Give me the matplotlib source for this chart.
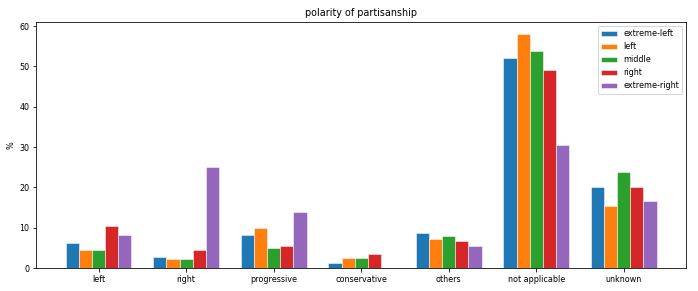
import numpy as np
import matplotlib
matplotlib.use('Agg')
import matplotlib.pyplot as plt

# categories on the x axis
categories = ['left', 'right', 'progressive', 'conservative', 'others', 'not applicable', 'unknown']

# one series per partisanship group (values in %)
extreme_left = [6.2, 2.7, 8.3, 1.3, 8.7, 52.2, 20.2]
left = [4.5, 2.2, 9.9, 2.6, 7.2, 58.1, 15.3]
middle = [4.4, 2.2, 4.9, 2.6, 7.9, 53.8, 23.9]
right = [10.5, 4.5, 5.4, 3.5, 6.8, 49.2, 20.0]
extreme_right = [8.3, 25.0, 13.9, 0.0, 5.5, 30.5, 16.7]

series = [extreme_left, left, middle, right, extreme_right]
series_names = ['extreme-left', 'left', 'middle', 'right', 'extreme-right']
colors = ['#1f77b4', '#ff7f0e', '#2ca02c', '#d62728', '#9467bd']

plt.rcParams['font.size'] = 8

# drawn at 72 dpi so ticks, pads and fonts scale like the original
fig, ax = plt.subplots(figsize=(698 / 72, 291 / 72), dpi=72)
fig.subplots_adjust(left=0.052, right=0.983, top=0.924, bottom=0.079)

x = np.arange(len(categories))
width = 0.15
for i, (vals, name) in enumerate(zip(series, series_names)):
    offset = (i - 2) * width
    ax.bar(x + offset, vals, width, label=name, color=colors[i],
           edgecolor='white', linewidth=0.5)

ax.set_xticks(x)
ax.set_xticklabels(categories)
ax.set_xlim(-0.7125, 6.7125)
ax.set_ylim(0, 61)
ax.set_yticks([0, 10, 20, 30, 40, 50, 60])
ax.set_ylabel('%')
ax.set_title('polarity of partisanship')
ax.legend(loc='upper right')

plt.savefig('out.png', dpi=72)
